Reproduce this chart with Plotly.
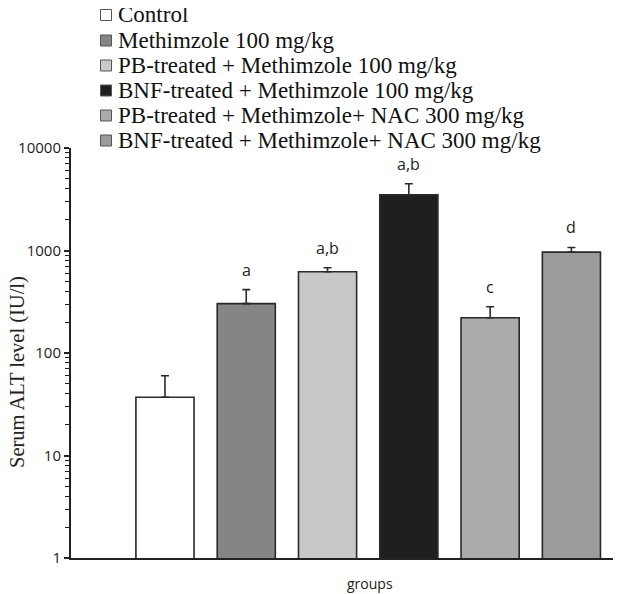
import plotly.graph_objects as go
import math

# ---- data ----
groups = ["Control", "Methimzole 100 mg/kg", "PB-treated + Methimzole 100 mg/kg",
          "BNF-treated + Methimzole 100 mg/kg", "PB-treated + Methimzole+ NAC 300 mg/kg",
          "BNF-treated + Methimzole+ NAC 300 mg/kg"]
alt_mean = [37, 303, 620, 3500, 221, 965]
alt_err = [23, 112, 58, 985, 62, 105]
sig_letters = ["", "a", "a,b", "a,b", "c", "d"]
ytick_vals = [1, 10, 100, 1000, 10000]
ytick_text = ["1", "10", "100", "1000", "10000"]

# ---- styles ----
fills = ["#ffffff", "#858585", "#c8c8c8", "#1f1f1f", "#ababab", "#9b9b9b"]
OFF = 8  # page body margin offset
W, H = 621 - OFF, 594 - OFF
L, R, T, B = 71 - OFF, 0, 148 - OFF, 36
PW, PH = W - L - R, H - T - B

def px_x(px):
    # px given in reference-screen coordinates
    return (px - OFF - L) / PW

def px_y(py):
    return (T + PH - (py - OFF)) / PH

xs = list(range(len(groups)))
fig = go.Figure()
fig.add_trace(go.Bar(
    x=xs, y=alt_mean, width=0.715,
    marker=dict(color=fills, line=dict(color="#2a2a2a", width=1.6)),
    error_y=dict(type="data", symmetric=False, array=alt_err,
                 arrayminus=[0] * len(alt_err), color="#2a2a2a",
                 thickness=1.6, width=4),
    showlegend=False,
))

annotations = []
for i, (m, e, s) in enumerate(zip(alt_mean, alt_err, sig_letters)):
    if s:
        annotations.append(dict(x=i, y=math.log10(m + e), xref="x", yref="y",
                                text=s, showarrow=False, yanchor="middle",
                                yshift=20,
                                font=dict(family="Open Sans", size=16, color="#222")))

# legend drawn as text + swatches
legend_y = [15, 40.5, 65.5, 90.5, 115.5, 140.5]
shapes = []
for name, col, ly in zip(groups, fills, legend_y):
    annotations.append(dict(x=px_x(116), y=px_y(ly), xref="paper", yref="paper",
                            text=name, showarrow=False, xanchor="left", yanchor="middle",
                            font=dict(family="Liberation Serif", size=23, color="#111")))
    shapes.append(dict(type="rect", xref="paper", yref="paper",
                       xsizemode="pixel", ysizemode="pixel",
                       xanchor=px_x(106), yanchor=px_y(ly),
                       x0=-5.5, x1=5.5, y0=-5.5, y1=5.5,
                       fillcolor=col, line=dict(color="#555", width=1)))

annotations.append(dict(x=px_x(17), y=px_y(372), xref="paper", yref="paper",
                        text="Serum ALT level (IU/l)", showarrow=False, textangle=-90,
                        xanchor="center", yanchor="middle",
                        font=dict(family="Liberation Serif", size=20.5, color="#222")))
annotations.append(dict(x=px_x(370), y=px_y(583), xref="paper", yref="paper",
                        text="groups", showarrow=False, xanchor="center", yanchor="middle",
                        font=dict(family="Open Sans", size=14, color="#222")))

fig.update_layout(
    width=W, height=H,
    margin=dict(l=L, r=R, t=T, b=B, autoexpand=False),
    plot_bgcolor="white", paper_bgcolor="white",
    annotations=annotations, shapes=shapes,
    showlegend=False,
    xaxis=dict(range=[-1.156, 5.61], showticklabels=False, ticks="",
               showgrid=False, zeroline=False, showline=True,
               linecolor="#222", linewidth=2),
    yaxis=dict(type="log", range=[0, 4], tickvals=ytick_vals, ticktext=ytick_text,
               ticks="outside", ticklen=5, tickwidth=1.5, tickcolor="#222",
               showgrid=False, zeroline=False, showline=True,
               linecolor="#222", linewidth=2,
               tickfont=dict(family="Open Sans", size=15, color="#222"),
               minor=dict(dtick="D1", ticks="outside", ticklen=4, tickwidth=1.2,
                          tickcolor="#222", showgrid=False)),
)

fig.write_html("out.html")
